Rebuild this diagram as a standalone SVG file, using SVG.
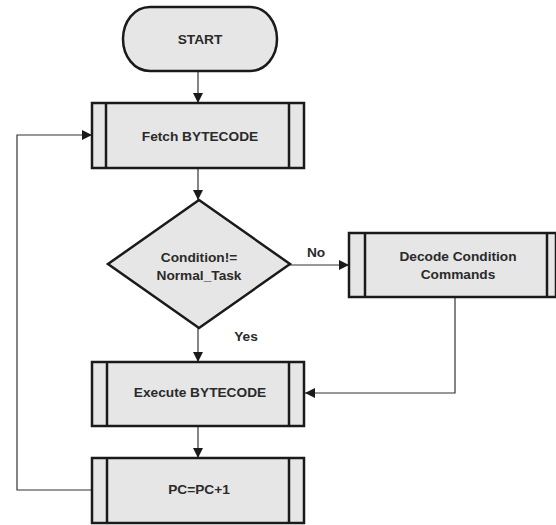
<svg xmlns="http://www.w3.org/2000/svg" width="556" height="525" viewBox="0 0 556 525">
<defs>
<style>
.box{fill:#e6e6e6;stroke:#1a1a1a;stroke-width:2.5}
.bar{stroke:#1a1a1a;stroke-width:2.5}
.t{font-family:"Liberation Sans",Arial,sans-serif;font-weight:bold;font-size:13.7px;fill:#2a2a2a;text-anchor:middle}
.c{fill:none;stroke:#333;stroke-width:1.2}
</style>
<marker id="ah" viewBox="0 0 10 10" refX="10" refY="5" markerWidth="10" markerHeight="10" markerUnits="userSpaceOnUse" orient="auto">
<path d="M0,0 L10,5 L0,10 Z" fill="#1a1a1a"/>
</marker>
</defs>
<rect width="556" height="525" fill="#fff"/>
<g id="connectors">
<path class="c" d="M198,71 V103" marker-end="url(#ah)"/>
<path class="c" d="M198,168 V200" marker-end="url(#ah)"/>
<path class="c" d="M290,265 H349" marker-end="url(#ah)"/>
<path class="c" d="M198,328 V362" marker-end="url(#ah)"/>
<path class="c" d="M455,297 V393 H305" marker-end="url(#ah)"/>
<path class="c" d="M198,426 V458" marker-end="url(#ah)"/>
<path class="c" d="M92,490 H17 V135 H92" marker-end="url(#ah)"/>
<text class="t" x="316" y="257">No</text>
<text class="t" x="246" y="341">Yes</text>
</g>
<g id="start">
<path class="box" d="M150,7 H250 C266,7 277,22 277,39 C277,56 266,71 250,71 H150 C134,71 123,56 123,39 C123,22 134,7 150,7 Z"/>
<text class="t" x="200" y="44">START</text>
</g>
<g id="fetch">
<rect class="box" x="92" y="103" width="212" height="65"/>
<line class="bar" x1="106" y1="103" x2="106" y2="168"/>
<line class="bar" x1="289" y1="103" x2="289" y2="168"/>
<text class="t" x="200" y="141">Fetch BYTECODE</text>
</g>
<g id="condition">
<path class="box" d="M199,200 L290,264 L199,328 L108,264 Z"/>
<text class="t" x="199" y="262">Condition!=</text>
<text class="t" x="199" y="280">Normal_Task</text>
</g>
<g id="decode">
<rect class="box" x="349" y="233" width="207" height="64"/>
<line class="bar" x1="365" y1="233" x2="365" y2="297"/>
<line class="bar" x1="547" y1="233" x2="547" y2="297"/>
<text class="t" x="458" y="261">Decode Condition</text>
<text class="t" x="458" y="279">Commands</text>
</g>
<g id="execute">
<rect class="box" x="92" y="362" width="212" height="64"/>
<line class="bar" x1="107" y1="362" x2="107" y2="426"/>
<line class="bar" x1="289" y1="362" x2="289" y2="426"/>
<text class="t" x="200" y="397">Execute BYTECODE</text>
</g>
<g id="pc">
<rect class="box" x="92" y="458" width="212" height="65"/>
<line class="bar" x1="107" y1="458" x2="107" y2="523"/>
<line class="bar" x1="289" y1="458" x2="289" y2="523"/>
<text class="t" x="199" y="494">PC=PC+1</text>
</g>
</svg>
